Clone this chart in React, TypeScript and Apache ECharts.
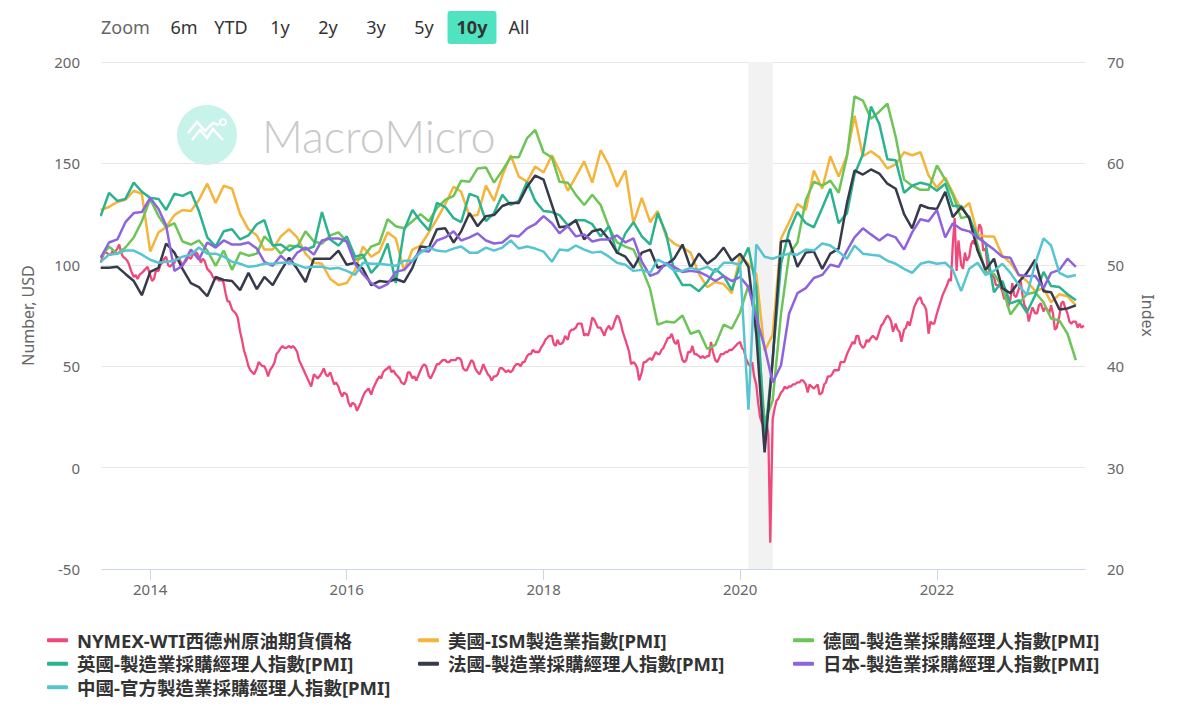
import React, { useEffect, useRef } from 'react';
import * as echarts from 'echarts';

// ---------- DATA ----------
// Monthly PMI values, Jul 2013 .. Jun 2023 (120 months)
const pmiStart = [2013, 7];

const usISM = [
  55.4, 55.7, 56.2, 56.4, 57.3, 57.0,
  51.3, 53.2, 53.7, 54.9, 55.4, 55.3, 56.4, 58.0, 56.1, 57.8, 57.5, 55.0,
  53.5, 52.9, 51.5, 51.5, 52.8, 53.5, 52.7, 51.1, 50.2, 50.1, 48.6, 48.0,
  48.2, 49.5, 51.8, 50.8, 51.3, 53.2, 52.6, 49.4, 51.5, 51.9, 53.2, 54.5,
  56.0, 57.7, 57.2, 54.8, 54.9, 57.8, 56.3, 58.8, 60.8, 58.7, 58.2, 59.7,
  59.1, 60.8, 59.3, 57.3, 58.7, 60.2, 58.1, 61.3, 59.8, 57.7, 59.3, 54.1,
  56.6, 54.2, 55.3, 52.8, 52.1, 51.7, 51.2, 49.1, 47.8, 48.3, 48.1, 47.2,
  50.9, 50.1, 49.1, 41.5, 43.1, 52.6, 54.2, 56.0, 55.4, 59.3, 57.5, 60.7,
  58.7, 60.8, 64.7, 60.7, 61.2, 60.6, 59.5, 59.9, 61.1, 60.8, 61.1, 58.8,
  57.6, 58.6, 57.1, 55.4, 56.1, 53.0, 52.8, 52.8, 50.9, 50.2, 49.0, 48.4,
  47.4, 47.7, 46.3, 47.1, 46.9, 46.0,
];

const germanyPMI = [
  50.7, 51.8, 51.1, 51.7, 52.7, 54.3,
  56.5, 54.8, 53.7, 54.1, 52.3, 52.0, 52.4, 51.4, 49.9, 51.4, 49.5, 51.2,
  50.9, 51.1, 52.8, 52.0, 51.1, 51.9, 51.8, 53.3, 52.3, 52.1, 52.9, 53.2,
  52.3, 50.5, 50.7, 51.8, 52.1, 54.5, 53.8, 53.6, 54.3, 55.0, 54.3, 55.6,
  56.4, 56.8, 58.3, 58.2, 59.5, 59.6, 58.1, 59.3, 60.6, 60.6, 62.5, 63.3,
  61.1, 60.6, 58.2, 58.1, 56.9, 55.9, 56.9, 55.9, 53.7, 52.2, 51.8, 51.5,
  49.7, 47.6, 44.1, 44.4, 44.3, 45.0, 43.2, 43.5, 41.7, 42.1, 44.1, 43.7,
  45.3, 48.0, 45.4, 34.5, 36.6, 45.2, 51.0, 52.2, 56.4, 58.2, 57.8, 58.3,
  57.1, 60.7, 66.6, 66.2, 64.4, 65.1, 65.9, 62.6, 58.4, 57.8, 57.4, 57.4,
  59.8, 58.4, 56.9, 54.6, 54.8, 52.0, 49.3, 49.1, 47.8, 45.1, 46.2, 47.1,
  47.3, 46.3, 44.7, 44.5, 43.2, 40.6,
];

const ukPMI = [
  54.8, 57.1, 56.3, 56.5, 58.1, 57.2,
  56.6, 56.5, 55.4, 57.0, 56.8, 57.2, 55.3, 52.7, 51.8, 53.3, 53.5, 52.5,
  52.9, 54.0, 54.4, 51.9, 52.0, 51.4, 51.9, 51.5, 51.8, 55.2, 52.5, 51.9,
  52.8, 50.8, 51.0, 49.2, 50.1, 52.1, 48.2, 53.4, 55.4, 54.3, 53.4, 56.1,
  55.7, 54.6, 54.2, 57.0, 56.7, 54.3, 55.1, 56.9, 55.9, 56.3, 58.2, 56.3,
  55.3, 55.2, 54.9, 53.9, 54.4, 54.4, 54.0, 52.8, 53.8, 51.1, 53.1, 54.2,
  52.8, 52.0, 55.1, 53.1, 49.4, 48.0, 48.0, 47.4, 48.3, 49.6, 48.9, 47.5,
  50.0, 51.7, 47.8, 32.6, 40.7, 50.1, 53.3, 55.2, 54.1, 53.7, 55.6, 57.5,
  54.1, 55.1, 58.9, 60.9, 65.6, 63.9, 60.4, 60.3, 57.1, 57.8, 58.1, 57.9,
  57.3, 58.0, 55.8, 55.8, 54.6, 52.8, 52.1, 47.3, 48.4, 46.2, 46.5, 45.3,
  47.0, 49.3, 47.9, 47.8, 47.1, 46.5,
];

const francePMI = [
  49.7, 49.7, 49.8, 49.1, 48.4, 47.0,
  49.3, 49.7, 52.1, 51.2, 49.6, 48.2, 47.8, 46.9, 48.8, 48.5, 48.4, 47.5,
  49.2, 47.6, 48.8, 48.0, 49.4, 50.7, 49.6, 48.3, 50.6, 50.6, 50.6, 51.4,
  50.0, 50.2, 49.6, 48.0, 48.4, 48.3, 48.6, 48.3, 49.7, 51.8, 51.7, 53.5,
  53.6, 52.2, 53.3, 55.1, 53.8, 54.8, 54.9, 55.8, 56.1, 56.1, 57.7, 58.8,
  58.4, 55.9, 53.7, 53.8, 54.4, 52.5, 53.3, 53.5, 52.5, 51.2, 50.8, 49.7,
  51.2, 51.5, 49.7, 50.0, 50.6, 52.0, 49.7, 51.1, 50.1, 50.7, 51.7, 50.4,
  51.1, 49.8, 43.2, 31.5, 40.6, 52.3, 52.4, 49.8, 51.2, 51.3, 49.6, 51.1,
  51.6, 56.1, 59.3, 58.9, 59.4, 59.0, 58.0, 57.5, 55.0, 53.6, 55.9, 55.6,
  55.5, 57.2, 54.7, 55.7, 54.6, 51.4, 49.5, 50.6, 47.7, 47.2, 48.3, 49.2,
  50.5, 47.4, 47.3, 45.6, 45.7, 46.0,
];

const japanPMI = [
  50.7, 52.2, 52.5, 54.2, 55.1, 55.2,
  56.6, 55.5, 53.9, 49.4, 49.9, 51.5, 50.5, 52.2, 51.7, 52.4, 52.0, 52.0,
  52.2, 51.6, 50.3, 49.9, 50.9, 50.1, 51.2, 51.7, 51.0, 52.4, 52.6, 52.6,
  52.3, 50.1, 49.1, 48.2, 47.7, 48.1, 49.3, 49.5, 50.4, 51.4, 51.3, 52.4,
  52.7, 53.3, 52.4, 52.7, 53.1, 52.4, 52.1, 52.2, 52.9, 52.8, 53.6, 54.0,
  54.8, 54.1, 53.1, 53.8, 52.8, 53.0, 52.3, 52.5, 52.5, 52.9, 52.2, 52.6,
  50.3, 48.9, 49.2, 50.2, 49.8, 49.3, 49.4, 49.3, 48.9, 48.4, 48.9, 48.4,
  48.8, 47.8, 44.8, 41.9, 38.4, 40.1, 45.2, 47.2, 47.7, 48.7, 49.0, 50.0,
  49.8, 51.4, 52.7, 53.6, 53.0, 52.4, 53.0, 52.7, 51.5, 53.2, 54.5, 54.3,
  55.4, 52.7, 54.1, 53.5, 53.3, 52.7, 52.1, 51.5, 50.8, 50.7, 49.0, 48.9,
  48.9, 47.7, 49.2, 49.5, 50.6, 49.8,
];

const chinaPMI = [
  50.3, 51.0, 51.1, 51.4, 51.4, 51.0,
  50.5, 50.2, 50.3, 50.4, 50.8, 51.0, 51.7, 51.1, 51.1, 50.8, 50.3, 50.1,
  49.8, 49.9, 50.1, 50.1, 50.2, 50.2, 50.0, 49.7, 49.8, 49.8, 49.6, 49.7,
  49.4, 49.0, 50.2, 50.1, 50.1, 50.0, 49.9, 50.4, 50.4, 51.2, 51.7, 51.4,
  51.3, 51.6, 51.8, 51.2, 51.2, 51.7, 51.4, 51.7, 52.4, 51.6, 51.8, 51.6,
  51.3, 50.3, 51.5, 51.4, 51.9, 51.5, 51.2, 51.3, 50.8, 50.2, 50.0, 49.4,
  49.5, 49.2, 50.5, 50.1, 49.4, 49.4, 49.7, 49.5, 49.8, 49.3, 50.2, 50.2,
  50.0, 35.7, 52.0, 50.8, 50.6, 50.9, 51.1, 51.0, 51.5, 51.4, 52.1, 51.9,
  51.3, 50.6, 51.9, 51.1, 51.0, 50.9, 50.4, 50.1, 49.6, 49.2, 50.1, 50.3,
  50.1, 50.2, 49.5, 47.4, 49.6, 50.2, 49.0, 49.4, 50.1, 49.2, 48.0, 47.0,
  50.1, 52.6, 51.9, 49.2, 48.8, 49.0,
];

// WTI crude, four readings per month (days 1, 8, 15, 22), Jul 2013 .. Jun 2023
const oilDays = [1, 8, 15, 22];
const oilWTI = [
  [101, 104, 106, 106], [105, 105, 107, 106], [108, 110, 106, 104], [103, 102, 100, 97], [94, 95, 93, 95], [96, 97, 98, 99],
  [95, 92, 93, 97], [97, 100, 101, 103], [104, 100, 99, 100], [101, 103, 104, 102], [100, 101, 102, 104], [103, 105, 106, 106],
  [104, 101, 103, 102], [98, 97, 96, 94], [93, 93, 92, 93], [91, 86, 82, 82], [78, 77, 76, 74], [67, 63, 58, 55],
  [50, 48, 47, 46], [49, 52, 51, 50], [50, 48, 45, 48], [50, 52, 56, 57], [59, 60, 59, 59], [60, 59, 60, 59],
  [57, 53, 51, 49], [46, 44, 42, 40], [46, 45, 44, 45], [47, 49, 46, 45], [47, 44, 41, 42], [40, 37, 35, 37],
  [36, 32, 30, 32], [31, 28, 30, 32], [35, 37, 38, 39], [36, 39, 41, 43], [45, 44, 47, 48], [49, 50, 47, 48],
  [46, 45, 44, 42], [41, 43, 47, 47], [44, 45, 43, 45], [48, 50, 51, 50], [45, 44, 46, 48], [51, 51, 52, 53],
  [53, 52, 52, 53], [53, 53, 54, 54], [53, 49, 48, 48], [51, 53, 52, 49], [47, 46, 48, 51], [48, 46, 45, 43],
  [45, 45, 46, 49], [49, 48, 47, 48], [47, 48, 50, 51], [51, 50, 52, 52], [55, 56, 56, 58], [57, 57, 57, 59],
  [61, 63, 64, 65], [65, 61, 60, 63], [61, 61, 62, 65], [63, 67, 68, 68], [69, 71, 71, 71], [65, 66, 65, 68],
  [74, 73, 71, 69], [69, 67, 65, 68], [70, 68, 69, 72], [75, 74, 71, 67], [63, 60, 57, 51], [52, 51, 49, 43],
  [47, 52, 52, 53], [54, 53, 55, 57], [56, 56, 58, 59], [62, 64, 64, 66], [62, 61, 63, 58], [53, 52, 53, 57],
  [57, 60, 56, 56], [55, 54, 55, 54], [55, 55, 62, 57], [53, 52, 54, 56], [56, 57, 57, 58], [58, 59, 60, 61],
  [62, 59, 58, 54], [51, 50, 52, 45], [41, 32, 25, 22], [20, 23, 16, -37], [24, 29, 33, 34], [37, 38, 40, 39],
  [40, 40, 41, 41], [42, 42, 43, 43], [41, 37, 41, 40], [39, 40, 41, 36], [37, 41, 42, 45], [45, 46, 48, 48],
  [48, 52, 52, 52], [56, 58, 60, 62], [61, 65, 65, 61], [59, 60, 63, 62], [64, 65, 64, 63], [67, 70, 71, 73],
  [75, 74, 72, 67], [71, 68, 67, 62], [68, 69, 72, 70], [75, 79, 81, 83], [84, 81, 80, 78], [66, 72, 71, 71],
  [76, 79, 82, 85], [88, 90, 93, 92], [110, 123, 97, 112], [100, 98, 106, 102], [104, 110, 112, 110], [115, 120, 118, 107],
  [108, 99, 97, 95], [94, 90, 90, 90], [87, 83, 85, 79], [83, 91, 85, 84], [88, 92, 85, 80], [78, 72, 76, 79],
  [76, 76, 80, 81], [77, 79, 78, 76], [80, 76, 68, 69], [75, 81, 82, 79], [76, 72, 71, 72], [72, 69, 71, 69],
];
const oilLast = { date: [2023, 7, 1], value: 70 };

const xMin = [2013, 7, 6];
const xMax = [2023, 7, 5];
const yearTickLabels = [2014, 2016, 2018, 2020, 2022];
const recession = [[2020, 2, 1], [2020, 5, 1]];

const seriesNames = [
  'NYMEX-WTI西德州原油期貨價格',
  '美國-ISM製造業指數[PMI]',
  '德國-製造業採購經理人指數[PMI]',
  '英國-製造業採購經理人指數[PMI]',
  '法國-製造業採購經理人指數[PMI]',
  '日本-製造業採購經理人指數[PMI]',
  '中國-官方製造業採購經理人指數[PMI]',
];
const seriesColors = ['#f0487b', '#f5b43a', '#6cc556', '#2bb38f', '#363a4b', '#8e63dd', '#56c5d1'];

const rangeButtons = ['6m', 'YTD', '1y', '2y', '3y', '5y', '10y', 'All'];
const activeRange = '10y';

// ---------- helpers ----------
const ts = (y: number, m: number, d: number) => new Date(y, m - 1, d).getTime();
function monthTs(i: number, day = 1) {
  const y = pmiStart[0] + Math.floor((pmiStart[1] - 1 + i) / 12);
  const m = ((pmiStart[1] - 1 + i) % 12) + 1;
  return ts(y, m, day);
}
function pmiSeries(values: number[]) {
  return values.map((v, i) => [monthTs(i), v]);
}
function oilSeries() {
  const out: any[] = [];
  oilWTI.forEach((vals, i) => vals.forEach((v, k) => out.push([monthTs(i, oilDays[k]), v])));
  out.push([ts(oilLast.date[0], oilLast.date[1], oilLast.date[2]), oilLast.value]);
  return out;
}

export default function App() {
  const ref = useRef<HTMLDivElement>(null);
  useEffect(() => {
    if (!ref.current) return;
    const chart = echarts.init(ref.current, undefined, { renderer: 'svg' });
    const font = "'Noto Sans', 'Noto Sans CJK TC', sans-serif";
    const tickVals = yearTickLabels.map((y) => ts(y, 1, 1));
    const pmis = [usISM, germanyPMI, ukPMI, francePMI, japanPMI, chinaPMI];

    const series: any[] = [
      {
        name: seriesNames[0],
        type: 'line',
        yAxisIndex: 0,
        showSymbol: false,
        symbol: 'none',
        data: oilSeries(),
        lineStyle: { width: 2.3, color: seriesColors[0] },
        itemStyle: { color: seriesColors[0] },
        markArea: {
          silent: true,
          itemStyle: { color: '#f2f2f2' },
          data: [[{ xAxis: ts(recession[0][0], recession[0][1], recession[0][2]) }, { xAxis: ts(recession[1][0], recession[1][1], recession[1][2]) }]],
        },
      },
      ...pmis.map((vals, i) => ({
        name: seriesNames[i + 1],
        type: 'line',
        yAxisIndex: 1,
        symbol: 'none',
        showSymbol: false,
        data: pmiSeries(vals),
        lineStyle: { width: 2.5, color: seriesColors[i + 1] },
        itemStyle: { color: seriesColors[i + 1] },
      })),
    ];

    const legendCommon = {
      orient: 'vertical',
      top: 631,
      padding: 0,
      itemWidth: 21,
      itemHeight: 4,
      itemGap: 5,
      icon: 'roundRect',
      textStyle: {
        fontSize: 18.5,
        fontWeight: 'bold',
        color: '#333',
        fontFamily: "'Noto Sans', 'Noto Sans CJK TC', sans-serif",
        lineHeight: 18,
        padding: [0, 0, 0, 4],
      },
      selectedMode: false,
    };

    // range selector graphics
    const btnCenters = [184, 231, 280, 328, 376, 424, 472, 519];
    const graphics: any[] = [
      { type: 'text', x: 101, y: 27, style: { text: 'Zoom', fill: '#666', font: `18px ${font}`, verticalAlign: 'middle' } },
    ];
    rangeButtons.forEach((b, i) => {
      if (b === activeRange) {
        graphics.push({ type: 'rect', shape: { x: btnCenters[i] - 24.5, y: 11, width: 49, height: 33, r: 3 }, style: { fill: '#50e3c2' } });
      }
      graphics.push({
        type: 'text',
        x: btnCenters[i],
        y: 27,
        style: {
          text: b,
          fill: '#333',
          align: 'center',
          verticalAlign: 'middle',
          font: `${b === activeRange ? 'bold ' : ''}18px ${font}`,
        },
      });
    });
    // watermark
    graphics.push(
      { type: 'circle', shape: { cx: 207, cy: 135, r: 30 }, style: { fill: '#c8f3ea' }, z: 0 },
      { type: 'polyline', shape: { points: [[188, 133], [197, 122], [205, 131], [213, 123], [219, 125]] }, style: { stroke: '#fff', lineWidth: 2.5, fill: null } },
      { type: 'polyline', shape: { points: [[192, 140], [200, 130], [207, 138], [213, 129], [223, 140]] }, style: { stroke: '#fff', lineWidth: 2.5, fill: null } },
      { type: 'circle', shape: { cx: 223, cy: 122, r: 3 }, style: { stroke: '#fff', lineWidth: 2, fill: null } },
      { type: 'text', x: 262, y: 136, style: { text: 'MacroMicro', fill: '#c9c9c9', font: `300 45px Lato, 'Open Sans', sans-serif`, verticalAlign: 'middle' } }
    );

    chart.setOption({
      animation: false,
      backgroundColor: '#ffffff',
      grid: { left: 102, right: 94, top: 62, bottom: 144 },
      graphic: graphics,
      legend: [
        { ...legendCommon, left: 47, data: [seriesNames[0], seriesNames[3], seriesNames[6]] },
        { ...legendCommon, left: 418, data: [seriesNames[1], seriesNames[4]] },
        { ...legendCommon, left: 793, data: [seriesNames[2], seriesNames[5]] },
      ],
      xAxis: {
        type: 'value',
        min: ts(xMin[0], xMin[1], xMin[2]),
        max: ts(xMax[0], xMax[1], xMax[2]),
        axisLine: { onZero: false, lineStyle: { color: '#ccd6eb', width: 1 } },
        axisTick: { show: true, length: 11, lineStyle: { color: '#ccd6eb' }, customValues: tickVals },
        axisLabel: {
          customValues: tickVals,
          formatter: (v: number) => String(new Date(v).getFullYear()),
          color: '#666',
          fontSize: 15,
          margin: 12,
          fontFamily: font,
        },
        splitLine: { show: false },
      },
      yAxis: [
        {
          type: 'value',
          min: -50,
          max: 200,
          interval: 50,
          name: 'Number, USD',
          nameLocation: 'middle',
          nameGap: 66,
          nameTextStyle: { color: '#666', fontSize: 16, fontFamily: font },
          axisLabel: { color: '#666', fontSize: 15, margin: 22, fontFamily: font },
          axisLine: { show: false },
          axisTick: { show: false },
          splitLine: { lineStyle: { color: '#e6e6e6', width: 1 } },
        },
        {
          type: 'value',
          position: 'right',
          min: 20,
          max: 70,
          interval: 10,
          name: 'Index',
          nameLocation: 'middle',
          nameRotate: -90,
          nameGap: 55,
          nameTextStyle: { color: '#666', fontSize: 16, fontFamily: font },
          axisLabel: { color: '#666', fontSize: 15, margin: 22, fontFamily: font },
          axisLine: { show: false },
          axisTick: { show: false },
          splitLine: { show: false },
        },
      ],
      series,
    });
    return () => chart.dispose();
  }, []);
  return <div ref={ref} style={{ position: 'fixed', left: 0, top: 0, width: 1179, height: 713 }} />;
}
